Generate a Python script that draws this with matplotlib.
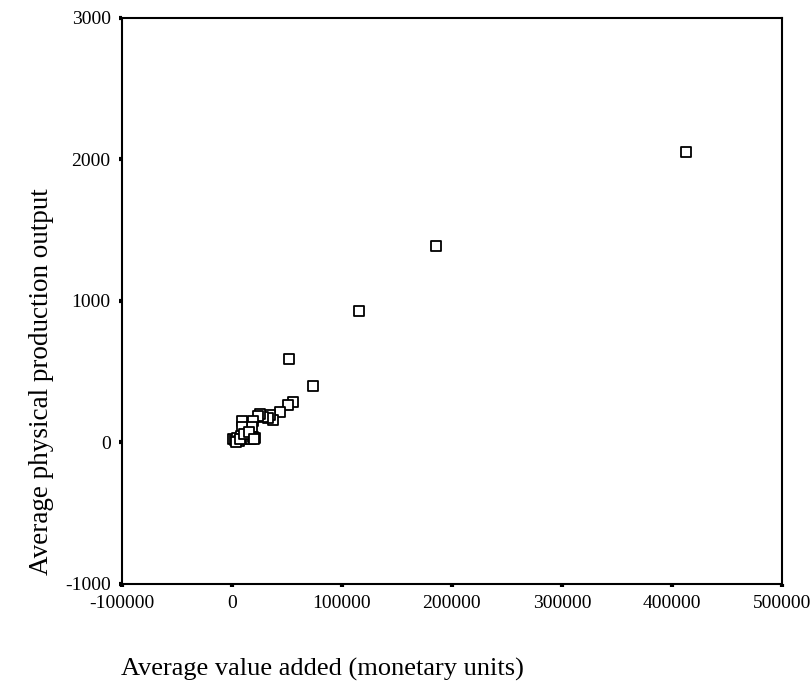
import matplotlib
matplotlib.use("Agg")
import matplotlib.pyplot as plt

## average value added (monetary units) and average physical output
value_added = [413000, 185700, 115700, 52000, 74200, 56000, 51500, 44100, 37000, 34500,
               33000, 28000, 25700, 24000, 19600, 18200, 9100, 9100, 16000,
               1500, 3000, 5000, 6500, 8000, 10000, 12000, 14000, 17000, 19000, 21000,
               4000, 7500, 11000, 15500, 20000]
physical_output = [2055, 1384, 931, 589, 401, 282, 263, 212, 160, 190,
                   170, 180, 200, 185, 152, 106, 152, 106, 40,
                   25, 15, 30, 10, 45, 20, 35, 50, 25, 40, 30,
                   5, 25, 60, 70, 20]

xticks = [-100000, 0, 100000, 200000, 300000, 400000, 500000]
yticks = [-1000, 0, 1000, 2000, 3000]

plt.rcParams['font.family'] = ['Liberation Serif', 'DejaVu Serif']

fig = plt.figure(figsize=(8.12, 6.86), dpi=100)
ax = fig.add_axes([0.150, 0.149, 0.813, 0.825])

ax.scatter(value_added, physical_output, marker='s', s=42, facecolors='white',
           edgecolors='black', linewidths=1.3, zorder=3)

ax.set_xlim(-100000, 500000)
ax.set_ylim(-1000, 3000)
ax.set_xticks(xticks)
ax.set_yticks(yticks)
ax.set_xticklabels([str(t) for t in xticks])
ax.set_yticklabels([str(t) for t in yticks])
ax.tick_params(direction='out', length=2, width=3, labelsize=14, pad=6)
for s in ax.spines.values():
    s.set_linewidth(1.5)

## axis titles sit off-centre in the original
fig.text(0.149, 0.015, 'Average value added (monetary units)', fontsize=19,
         ha='left', va='baseline')
fig.text(0.0505, 0.162, 'Average physical production output', fontsize=19.5, rotation=90,
         ha='center', va='bottom')

fig.savefig('out.png', dpi=100)
